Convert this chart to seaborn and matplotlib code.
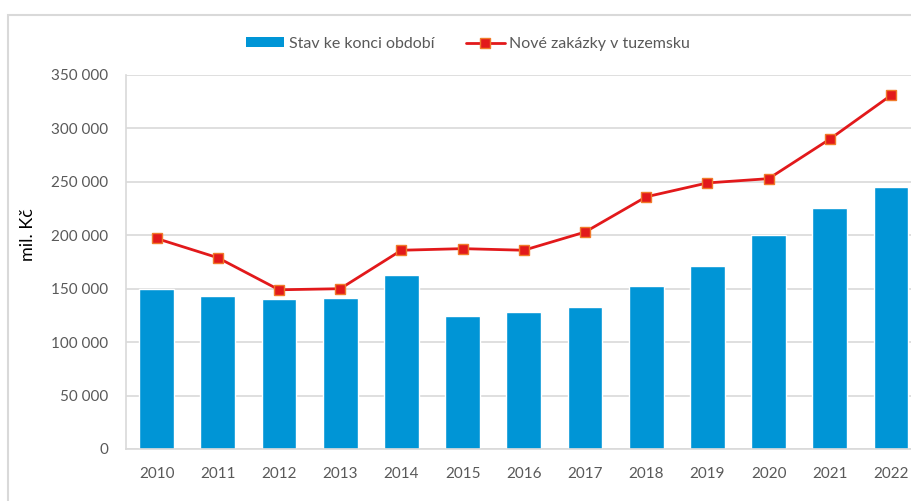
import numpy as np
import pandas as pd
import matplotlib
matplotlib.use("Agg")
import matplotlib.pyplot as plt
import matplotlib.ticker as mticker
from matplotlib.patches import Rectangle, Patch
from matplotlib.lines import Line2D
import seaborn as sns

years = ["2010", "2011", "2012", "2013", "2014", "2015", "2016",
         "2017", "2018", "2019", "2020", "2021", "2022"]
# Stav ke konci období (mil. Kč)
backlog = [149500, 143000, 140500, 141000, 163000, 124500, 128500,
           133000, 153000, 171000, 200000, 226000, 245000]
# Nové zakázky v tuzemsku (mil. Kč)
new_orders = [197000, 179000, 149000, 150000, 186000, 187500, 186000,
              203000, 236000, 249000, 253000, 290000, 331000]

bar_label = "Stav ke konci období"
line_label = "Nové zakázky v tuzemsku"

BLUE = "#0095d6"
RED = "#e2191b"
GREY_TXT = "#595959"
GRID = "#d9d9d9"

sns.set_theme(style="white")
plt.rcParams["font.family"] = ["Lato", "DejaVu Sans"]

df = pd.DataFrame({"rok": years, "stav": backlog, "nove": new_orders})

fig = plt.figure(figsize=(9.12, 5.01), dpi=100)
ax = fig.add_axes([126 / 912, 52 / 501, 795.6 / 912, 374 / 501])

sns.barplot(data=df, x="rok", y="stav", color=BLUE, saturation=1,
            width=0.57, ax=ax, zorder=2)
sns.pointplot(data=df, x="rok", y="nove", color=RED, markers="s",
              linestyles="-", ax=ax, zorder=3,
              markersize=7, linewidth=2,
              markeredgecolor="#f07a2a", markeredgewidth=1)

ax.set_xlim(-0.5, 12.5)
ax.set_ylim(0, 350000)
ax.yaxis.set_major_locator(mticker.MultipleLocator(50000))
ax.yaxis.set_major_formatter(
    mticker.FuncFormatter(lambda v, p: f"{int(v):,}".replace(",", " ")))
ax.grid(axis="y", color=GRID, linewidth=1.2, zorder=0)
ax.set_axisbelow(True)
ax.set_xlabel("")
ax.set_ylabel("")
for s in ["top", "right"]:
    ax.spines[s].set_visible(False)
for s in ["left", "bottom"]:
    ax.spines[s].set_color(GRID)
    ax.spines[s].set_linewidth(1.2)
ax.tick_params(axis="both", length=0, labelsize=11, colors=GREY_TXT)
ax.tick_params(axis="y", pad=13)
ax.tick_params(axis="x", pad=13)

fig.text(28 / 912, 1 - 235 / 501, "mil. Kč", rotation=90,
         ha="center", va="center", fontsize=13, color="black")

handles = [Patch(facecolor=BLUE, edgecolor="none"),
           Line2D([], [], color=RED, linewidth=2, marker="s", markersize=7,
                  markerfacecolor=RED, markeredgecolor="#f07a2a")]
fig.legend(handles, [bar_label, line_label], loc="center",
           bbox_to_anchor=(468 / 912, 1 - 44 / 501), ncol=2, frameon=False,
           fontsize=11.5, handlelength=2.4, handleheight=0.6,
           columnspacing=2.0, handletextpad=0.3, labelcolor=GREY_TXT)

fig.patches.append(Rectangle((8.5 / 912, -0.1), 1.2, (501 - 15) / 501 + 0.1,
                             transform=fig.transFigure, fill=False,
                             edgecolor=GRID, linewidth=1.5, zorder=0))

fig.savefig("out.png", dpi=100)
